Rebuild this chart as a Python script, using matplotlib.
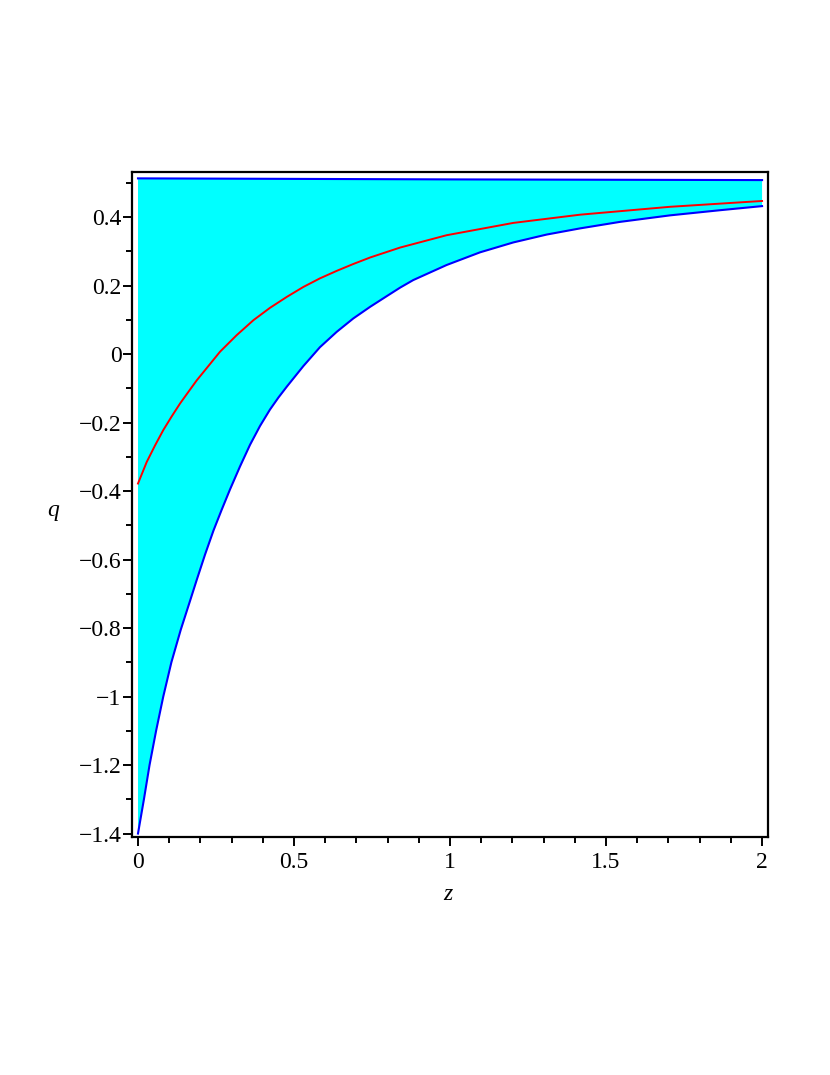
import numpy as np
import matplotlib
matplotlib.use("Agg")
import matplotlib.pyplot as plt
from matplotlib.ticker import MultipleLocator

# values
z_lower = [0.0, 0.019, 0.037, 0.058, 0.081, 0.107, 0.137, 0.167, 0.188, 0.215,
           0.242, 0.268, 0.295, 0.327, 0.359, 0.391, 0.423, 0.450, 0.477, 0.530,
           0.583, 0.637, 0.690, 0.744, 0.797, 0.840, 0.882, 0.989, 1.096, 1.203,
           1.310, 1.417, 1.545, 1.705, 1.865, 2.0]
q_lower = [-1.400, -1.300, -1.200, -1.100, -1.000, -0.900, -0.805, -0.720, -0.660, -0.585,
           -0.515, -0.455, -0.395, -0.328, -0.265, -0.210, -0.162, -0.127, -0.095, -0.035,
           0.020, 0.065, 0.104, 0.138, 0.169, 0.194, 0.216, 0.260, 0.297, 0.326,
           0.349, 0.367, 0.386, 0.405, 0.420, 0.432]

z_mid = [0.0, 0.028, 0.0545, 0.081, 0.108, 0.135, 0.161, 0.188, 0.263, 0.316,
         0.370, 0.423, 0.477, 0.530, 0.583, 0.637, 0.690, 0.744, 0.840, 0.989,
         1.203, 1.417, 1.705, 2.0]
q_mid = [-0.378, -0.315, -0.267, -0.222, -0.182, -0.144, -0.111, -0.077, 0.007, 0.055,
         0.099, 0.135, 0.167, 0.196, 0.221, 0.243, 0.263, 0.282, 0.311, 0.347,
         0.383, 0.407, 0.430, 0.447]

z_upper = [0.0, 1.0, 2.0]
q_upper = [0.513, 0.510, 0.508]

x_ticks = [0, 0.5, 1, 1.5, 2]
x_labels = ["0", "0.5", "1", "1.5", "2"]
y_ticks = [-1.4, -1.2, -1.0, -0.8, -0.6, -0.4, -0.2, 0, 0.2, 0.4]
y_labels = ["\u22121.4", "\u22121.2", "\u22121", "\u22120.8", "\u22120.6", "\u22120.4",
            "\u22120.2", "0", "0.2", "0.4"]

plt.rcParams['font.family'] = ['Liberation Serif', 'DejaVu Serif']

fig = plt.figure(figsize=(8.3, 10.75), dpi=100)
ax = fig.add_axes([132 / 830, 1 - 837 / 1075, 636 / 830, 665 / 1075])

# shaded band between the two blue curves
poly_z = np.concatenate([z_lower, z_upper[::-1]])
poly_q = np.concatenate([q_lower, q_upper[::-1]])
ax.fill(poly_z, poly_q, color='#00ffff', lw=0, zorder=1)

ax.plot(z_upper, q_upper, color='#0000ff', lw=1.5, zorder=3)
ax.plot(z_lower, q_lower, color='#0000ff', lw=1.5, zorder=3, solid_joinstyle='round')
ax.plot(z_mid, q_mid, color='#ff0000', lw=1.4, zorder=4, solid_joinstyle='round')

ax.set_xlim(-0.0192, 2.019)
ax.set_ylim(-1.41, 0.5316)

ax.set_xticks(x_ticks)
ax.set_xticklabels(x_labels)
ax.set_yticks(y_ticks)
ax.set_yticklabels(y_labels)
ax.xaxis.set_minor_locator(MultipleLocator(0.1))
ax.yaxis.set_minor_locator(MultipleLocator(0.1))

ax.tick_params(which='both', direction='out', width=1.4, colors='black',
               top=False, right=False, labelsize=17)
ax.tick_params(which='major', length=6.5)
ax.tick_params(which='minor', length=4)
ax.tick_params(axis='y', which='major', pad=1)
ax.tick_params(axis='x', which='major', pad=4)

for sp in ax.spines.values():
    sp.set_linewidth(1.6)

ax.text(-0.124, 0.4827, 'q', transform=ax.transAxes, fontsize=17,
        style='italic', ha='center', va='baseline')
ax.text(0.497, -0.0947, 'z', transform=ax.transAxes, fontsize=17,
        style='italic', ha='center', va='baseline')

fig.savefig('out.png', dpi=100)
